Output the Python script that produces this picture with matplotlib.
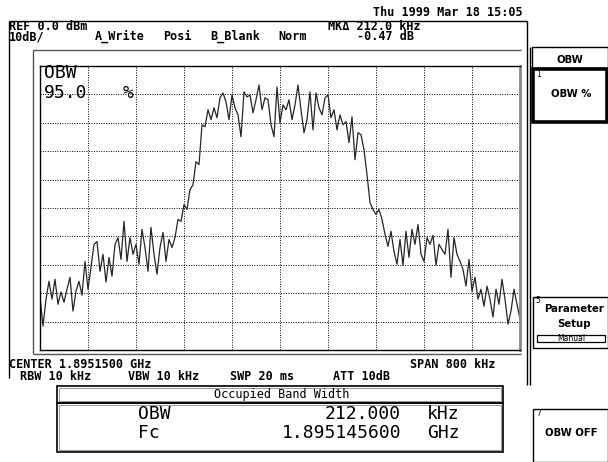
import matplotlib
matplotlib.use('Agg')
import matplotlib.pyplot as plt
import numpy as np
from matplotlib.patches import Rectangle

# ---- data ----
span_khz = 800.0
ref_dbm = 0.0
db_per_div = 10.0
trace_db = [
    -81.4, -91.6, -82.1, -75.8, -82.1, -75.1, -83.9, -79.6, -83.2, -78.6,
    -74.4, -86.3, -79.3, -75.8, -80.7, -68.8, -78.6, -70.9, -62.8, -61.8,
    -72.3, -66.3, -76.1, -67.4, -74.0, -62.8, -60.4, -68.1, -54.7, -68.8,
    -60.4, -66.3, -62.8, -69.8, -57.5, -63.9, -72.3, -56.8, -66.3, -73.3,
    -63.9, -58.6, -68.8, -61.1, -63.9, -60.4, -54.0, -54.7, -48.8, -50.5,
    -43.5, -41.8, -33.7, -34.7, -20.7, -21.4, -15.4, -18.9, -14.7, -18.2,
    -11.2, -9.5, -12.6, -18.9, -10.2, -14.7, -17.2, -24.9, -9.1, -10.9,
    -10.2, -16.5, -11.9, -6.7, -15.4, -11.2, -11.9, -20.7, -24.9, -7.4,
    -20.0, -13.7, -15.4, -11.9, -18.9, -13.7, -6.7, -15.4, -23.5, -18.9,
    -9.1, -22.5, -9.5, -14.7, -17.2, -11.2, -10.2, -18.2, -15.4, -22.5,
    -17.2, -20.7, -19.6, -27.0, -17.9, -33.0, -23.5, -24.2, -29.5, -38.2,
    -48.1, -50.5, -52.3, -50.5, -54.0, -59.3, -63.5, -58.2, -65.3, -69.8,
    -61.1, -70.2, -58.2, -67.4, -57.5, -62.8, -55.8, -66.3, -68.8, -60.4,
    -62.8, -59.6, -70.2, -62.8, -64.6, -66.3, -57.5, -74.4, -60.4, -66.3,
    -68.8, -71.6, -77.5, -68.1, -79.3, -74.4, -82.1, -78.6, -84.6, -77.5,
    -82.1, -88.4, -78.6, -83.9, -75.1, -82.1, -90.9, -86.3, -78.6, -83.9, -89.1,
]
freq_khz = np.linspace(-span_khz / 2, span_khz / 2, len(trace_db))

W, H = 608, 462
fig = plt.figure(figsize=(W / 100, H / 100), dpi=100)
fig.patch.set_facecolor('white')


def box(x0, y0, x1, y1):
    return [x0 / W, 1 - y1 / H, (x1 - x0) / W, (y1 - y0) / H]


# ---- spectrum graticule ----
ax = fig.add_axes(box(40, 66, 520, 350))
ax.plot(freq_khz, trace_db, color='#262626', lw=0.9)
ax.set_xlim(-span_khz / 2, span_khz / 2)
ax.set_ylim(ref_dbm - 10 * db_per_div, ref_dbm)
ax.set_xticks(np.linspace(-span_khz / 2, span_khz / 2, 11))
ax.set_yticks(np.arange(ref_dbm - 10 * db_per_div, ref_dbm + 1, db_per_div))
ax.grid(True, color='black', ls=(0, (1, 1.5)), lw=0.7)
ax.tick_params(length=0, labelbottom=False, labelleft=False)
for s in ax.spines.values():
    s.set_linewidth(1.0)
    s.set_color('black')
ax.spines['right'].set_linewidth(2.0)
ax.spines['right'].set_color('#888888')

# ---- overlay in pixel coordinates ----
ov = fig.add_axes([0, 0, 1, 1], zorder=5)
ov.set_xlim(0, W)
ov.set_ylim(H, 0)
ov.axis('off')
ov.patch.set_alpha(0)


def line(x, y, c='black', lw=1.0):
    ov.plot(x, y, color=c, lw=lw, solid_capstyle='butt')


def rect(x0, y0, x1, y1, lw=1.0, c='black', fc='none'):
    ov.add_patch(Rectangle((x0, y0), x1 - x0, y1 - y0, fill=(fc != 'none'),
                           facecolor=fc, edgecolor=c, lw=lw))


# frames
line([9, 527], [21, 21])
line([9, 9], [21, 378])
line([527, 527], [21, 385])
line([530, 530], [47, 385])
line([33, 521], [50, 50], c='#555555')
line([33, 33], [50, 354], c='#555555')
line([33, 521], [354, 354], c='#555555')

hdr = dict(family='DejaVu Sans Mono', fontweight='bold', fontsize=8.5, va='center')
big = dict(family='DejaVu Sans Mono', fontsize=13, va='center')
key = dict(family='DejaVu Sans', fontweight='bold', fontsize=7.3, va='center', ha='center')

ov.text(523, 13, 'Thu 1999 Mar 18 15:05', ha='right', **hdr)
ov.text(9, 27, 'REF 0.0 dBm', **hdr)
ov.text(328, 27, 'MKΔ 212.0 kHz', **hdr)
ov.text(9, 36.5, '10dB/', **hdr)
ov.text(95, 36.5, 'A_Write', **hdr)
ov.text(163, 36.5, 'Posi', **hdr)
ov.text(210, 36.5, 'B_Blank', **hdr)
ov.text(278, 36.5, 'Norm', **hdr)
ov.text(357, 36.5, '-0.47 dB', **hdr)

# inside graticule
ov.text(44, 73.5, 'OBW', **big)
ov.text(44, 93.5, '95.0', **big)
ov.text(123, 93.5, '%', **big)

# bottom annotations
ov.text(9, 364, 'CENTER 1.8951500 GHz', **hdr)
ov.text(410, 364, 'SPAN 800 kHz', **hdr)
ov.text(20, 376, 'RBW 10 kHz', **hdr)
ov.text(128, 376, 'VBW 10 kHz', **hdr)
ov.text(230, 376, 'SWP 20 ms', **hdr)
ov.text(333, 376, 'ATT 10dB', **hdr)

# occupied band width box
rect(57, 386, 503, 403, lw=1.2)
rect(57, 403, 503, 452, lw=1.2)
rect(59, 388, 501, 401, lw=0.6, c='#888888')
rect(59, 405, 501, 450, lw=0.6, c='#888888')
ov.text(282, 394.5, 'Occupied Band Width', ha='center',
        family='DejaVu Sans Mono', fontsize=8.5, va='center')
ov.text(138, 414, 'OBW', **big)
ov.text(138, 432.5, 'Fc', **big)
ov.text(401, 414, '212.000', ha='right', **big)
ov.text(401, 432.5, '1.895145600', ha='right', **big)
ov.text(427, 414, 'kHz', **big)
ov.text(427, 432.5, 'GHz', **big)

# soft keys
rect(532, 47, 608, 68, lw=1.0)
ov.text(570, 60, 'OBW', **key)
rect(533, 69, 607, 122, lw=2.6)
ov.text(536, 74.5, '1', fontsize=5.5, family='DejaVu Sans', va='center')
ov.text(571, 94, 'OBW %', **key)

rect(533, 297, 608, 348, lw=1.0)
ov.text(535, 300.5, '5', fontsize=5.5, family='DejaVu Sans', va='center')
ov.text(574, 309, 'Parameter', **key)
ov.text(574, 324, 'Setup', **key)
rect(537, 335, 605, 342, lw=0.9)
ov.text(571, 338.5, 'Manual', ha='center', va='center', family='DejaVu Sans', fontsize=5.5)

rect(533, 409, 608, 462, lw=1.0)
ov.text(536, 413, '7', fontsize=5.5, family='DejaVu Sans', va='center')
ov.text(571, 433, 'OBW OFF', **key)

fig.savefig('out.png', dpi=100, facecolor='white')
